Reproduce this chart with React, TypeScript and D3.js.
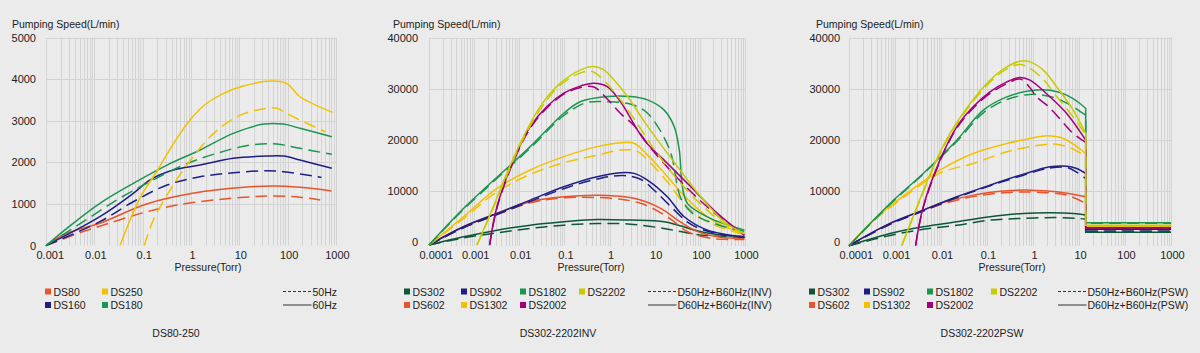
import * as d3 from 'd3';

type Pt = [number, number];

// ---------- DS80-250 (pressure Torr, speed L/min) ----------
const ds80_60: Pt[] = [[0.001, 0], [0.0027, 296], [0.013, 537], [0.12, 1000], [1.08, 1258], [12.6, 1402], [50, 1434], [180, 1402], [810, 1314]];
const ds80_50: Pt[] = [[0.001, 0], [0.0045, 290], [0.012, 455], [0.17, 857], [1.08, 1034], [12.6, 1162], [50, 1194], [180, 1162], [470, 1098]];
const ds160_60: Pt[] = [[0.001, 0], [0.013, 695], [0.064, 1257], [0.14, 1577], [0.43, 1817], [1.54, 1937], [7.5, 2099], [37, 2154], [82, 2154], [180, 2058], [820, 1858]];
const ds160_50: Pt[] = [[0.001, 0], [0.013, 575], [0.064, 1055], [0.32, 1457], [1.54, 1656], [7.5, 1752], [37, 1800], [82, 1776], [320, 1680], [500, 1640]];
const ds180_60: Pt[] = [[0.001, 0], [0.0027, 416], [0.013, 1017], [0.064, 1498], [0.32, 1937], [1.54, 2298], [7.5, 2700], [32, 2923], [82, 2923], [180, 2820], [820, 2618]];
const ds180_50: Pt[] = [[0.001, 0], [0.0059, 575], [0.029, 1096], [0.14, 1536], [0.7, 1937], [3.4, 2219], [17, 2418], [60, 2442], [180, 2339], [820, 2195]];
const ds250_60: Pt[] = [[0.034, 0], [0.088, 1150], [0.2, 1800], [0.45, 2480], [1.0, 3050], [2, 3400], [4.5, 3650], [12, 3838], [47, 3958], [95, 3901], [180, 3580], [850, 3204]];
const ds250_50: Pt[] = [[0.108, 0], [0.166, 615], [0.37, 1337], [0.82, 1937], [2.95, 2700], [10.5, 3139], [37, 3300], [60, 3300], [130, 3098], [600, 2738]];

// ---------- DS302-2202INV ----------
const inv302_60: Pt[] = [[0.0001, -700], [0.00058, 920], [0.0032, 2235], [0.0175, 3222], [0.097, 3880], [0.53, 4340], [2.9, 4208], [16, 3880], [32, 3234], [105, 1913], [295, 1262], [970, 927]];
const inv302_50: Pt[] = [[0.0001, -700], [0.00058, 700], [0.0032, 1700], [0.0175, 2564], [0.097, 3222], [0.53, 3550], [2.9, 3419], [16, 2564], [40, 1900], [100, 1300], [300, 1000], [970, 800]];
const inv602_60: Pt[] = [[0.0001, -700], [0.00058, 2893], [0.0032, 5523], [0.0175, 7824], [0.097, 8810], [0.63, 9100], [3.5, 8500], [13.5, 6527], [32, 4220], [74, 2248], [245, 927], [970, 611]];
const inv602_50: Pt[] = [[0.0001, -700], [0.00058, 2700], [0.0032, 5300], [0.0175, 7600], [0.097, 8600], [1.05, 8500], [4.9, 7513], [19, 4871], [54, 1913], [174, 611], [970, 400]];
const inv902_60: Pt[] = [[0.0001, -700], [0.00058, 2893], [0.0032, 5523], [0.0175, 8153], [0.097, 10783], [0.53, 12755], [1.75, 13545], [3.5, 13413], [6.9, 12098], [19, 8815], [45, 4871], [148, 2248], [970, 927]];
const inv902_50: Pt[] = [[0.0001, -700], [0.00058, 2700], [0.0032, 5300], [0.0175, 7900], [0.097, 10400], [0.53, 12300], [2, 13000], [5, 12200], [10, 10000], [25, 6500], [60, 3500], [200, 1700], [970, 800]];
const inv1302_60: Pt[] = [[0.0001, -700], [0.00058, 4865], [0.0032, 10454], [0.0175, 14070], [0.097, 16700], [0.53, 18673], [1.75, 19462], [3.5, 19330], [6.5, 17300], [17, 13300], [45, 9000], [120, 5500], [300, 3200], [970, 1600]];
const inv1302_50: Pt[] = [[0.0001, -700], [0.00058, 4500], [0.0032, 9800], [0.0175, 13200], [0.097, 15500], [0.53, 17000], [1.75, 18000], [4, 17800], [8, 15500], [20, 11500], [50, 7000], [150, 3800], [970, 1300]];
const inv1802_60: Pt[] = [[0.0001, -700], [0.00058, 6500], [0.0175, 18673], [0.097, 25248], [0.23, 27550], [0.89, 28535], [2.9, 28535], [6.9, 27878], [16, 25905], [27, 22618], [35, 18015], [41, 10783], [53, 7495], [105, 5523], [208, 4208], [970, 2235]];
const inv1802_50: Pt[] = [[0.0001, -700], [0.00058, 6300], [0.0175, 18400], [0.097, 24800], [0.3, 27300], [1, 27500], [3, 27000], [6.5, 25500], [15, 21000], [24, 16700], [30, 12000], [38, 8500], [70, 5500], [250, 3300], [970, 2000]];
const inv2002_60: Pt[] = [[0.0022, -700], [0.0032, 6838], [0.0075, 16043], [0.0175, 22618], [0.041, 26563], [0.097, 29193], [0.23, 30640], [0.45, 31165], [0.89, 30508], [1.75, 27500], [5.8, 20000], [19, 15400], [63, 10787], [245, 5541], [970, 1262]];
const inv2002_50: Pt[] = [[0.0022, -700], [0.0032, 6600], [0.0075, 15800], [0.0175, 22300], [0.041, 26300], [0.097, 29000], [0.23, 30300], [0.45, 30400], [0.9, 28000], [1.75, 25200], [3.5, 22800], [8, 18500], [25, 13500], [90, 8500], [300, 4500], [970, 1200]];
const inv2202_60: Pt[] = [[0.00115, -700], [0.0023, 5523], [0.0053, 13413], [0.0105, 19330], [0.029, 26563], [0.081, 31165], [0.23, 33795], [0.45, 34453], [0.75, 33795], [1.25, 31823], [2.5, 28535], [5.5, 24000], [11.5, 20000], [32, 14733], [105, 8815], [347, 3885], [970, 1597]];
const inv2202_50: Pt[] = [[0.00115, -700], [0.0023, 5300], [0.0053, 13000], [0.0105, 19000], [0.029, 26000], [0.081, 30800], [0.23, 33200], [0.4, 33500], [0.7, 32000], [1.25, 29500], [2.5, 26000], [5.5, 21500], [11, 17500], [30, 12500], [100, 7500], [347, 3500], [970, 1500]];

// ---------- DS302-2202PSW (vertical drop at 14 Torr, then flat) ----------
const psw302_60: Pt[] = [[0.0001, -700], [0.00078, 1695], [0.0041, 2999], [0.022, 3977], [0.116, 4955], [0.62, 5607], [2.34, 5738], [7.5, 5607], [14, 5281], [14, 1925], [1000, 1925]];
const psw302_50: Pt[] = [[0.0001, -700], [0.00078, 1300], [0.0041, 2500], [0.022, 3300], [0.116, 4300], [0.62, 4650], [3.27, 4800], [8.9, 4650], [14, 4500], [14, 2100], [1000, 2100]];
const psw602_60: Pt[] = [[0.0001, -700], [0.00078, 3651], [0.0041, 6259], [0.0095, 7563], [0.05, 9193], [0.27, 10041], [0.86, 10171], [3.27, 9845], [14, 8867], [14, 2700], [1000, 2700]];
const psw602_50: Pt[] = [[0.0001, -700], [0.00078, 3500], [0.0041, 6100], [0.0095, 7300], [0.05, 8900], [0.27, 9700], [1.2, 9750], [5.4, 9200], [14, 7563], [14, 2600], [1000, 2600]];
const psw902_60: Pt[] = [[0.0001, -700], [0.00078, 3651], [0.0041, 6259], [0.022, 8867], [0.116, 11149], [0.62, 13301], [2.34, 14735], [5.4, 14865], [8.9, 14409], [14, 13431], [14, 2515], [1000, 2515]];
const psw902_50: Pt[] = [[0.0001, -700], [0.00078, 3500], [0.0041, 6100], [0.022, 8700], [0.116, 11000], [0.62, 13100], [2.34, 14500], [5.4, 14600], [8.9, 13700], [14, 12453], [14, 2400], [1000, 2400]];
const psw1302_60: Pt[] = [[0.0001, -700], [0.00034, 4303], [0.0018, 9519], [0.0095, 14083], [0.05, 17343], [0.27, 19299], [0.86, 20277], [1.98, 20799], [4.56, 20277], [14, 17343], [14, 3100], [1000, 3100]];
const psw1302_50: Pt[] = [[0.0001, -700], [0.00034, 4100], [0.0018, 9200], [0.0095, 13500], [0.05, 15387], [0.27, 17669], [1.2, 18900], [3.27, 19169], [7.5, 18200], [14, 16800], [14, 3000], [1000, 3000]];
const psw1802_60: Pt[] = [[0.0001, -700], [0.00078, 7563], [0.0041, 13431], [0.022, 19951], [0.083, 25819], [0.27, 28427], [0.86, 29601], [2.34, 29732], [5.4, 28753], [10.5, 27123], [14, 26145], [14, 3811], [1000, 3811]];
const psw1802_50: Pt[] = [[0.0001, -700], [0.00078, 7400], [0.0041, 13300], [0.022, 19700], [0.083, 25300], [0.27, 27900], [0.86, 28900], [2.34, 28500], [5.4, 27200], [10.5, 25600], [14, 24841], [14, 3700], [1000, 3700]];
const psw2002_60: Pt[] = [[0.0028, -700], [0.0041, 6911], [0.0095, 16039], [0.022, 22559], [0.05, 26471], [0.116, 29405], [0.27, 31361], [0.52, 32209], [0.86, 31687], [2.34, 28427], [5.4, 25167], [14, 19951], [14, 2829], [1000, 2829]];
const psw2002_50: Pt[] = [[0.0028, -700], [0.0041, 6700], [0.0095, 15800], [0.022, 22300], [0.05, 26200], [0.116, 29100], [0.27, 31000], [0.52, 31900], [0.86, 30200], [1.2, 28400], [2, 26800], [3.27, 24840], [5.4, 22560], [7.5, 21255], [14, 19500], [14, 2700], [1000, 2700]];
const psw2202_60: Pt[] = [[0.0014, -700], [0.003, 6911], [0.0068, 14735], [0.0157, 21255], [0.043, 27123], [0.116, 31687], [0.27, 34295], [0.52, 35404], [0.86, 35273], [1.68, 33643], [3.27, 30383], [7.5, 25819], [14, 21255], [14, 3300], [1000, 3300]];
const psw2202_50: Pt[] = [[0.0014, -700], [0.003, 6700], [0.0068, 14500], [0.0157, 21000], [0.043, 26800], [0.116, 31300], [0.27, 33900], [0.52, 34752], [0.86, 34000], [1.68, 31800], [3.27, 28500], [7.5, 24500], [14, 21000], [14, 3200], [1000, 3200]];

const ticks1 = [0.001, 0.01, 0.1, 1, 10, 100, 1000];
const ticks23 = [0.0001, 0.001, 0.01, 0.1, 1, 10, 100, 1000];
const yTicks1 = [0, 1000, 2000, 3000, 4000, 5000];
const yTicks23 = [0, 10000, 20000, 30000, 40000];

const C = {
  red: '#e8542b', gold: '#f2c100', navy: '#1e1e86', green: '#1b9650',
  dkgreen: '#0d5638', lime: '#c6cc00', purple: '#a2007a',
};

const FONT = '"Liberation Sans", Arial, Helvetica, sans-serif';

type Series = { name: string; color: string; d50: Pt[]; d60: Pt[] };
type LegendItem = { name: string; color: string; x: number; row: number };

interface ChartCfg {
  title: string; titleX: number;
  xDomain: [number, number]; xRange: [number, number];
  yDomain: [number, number]; yRange: [number, number];
  plotTop: number; plotBottom: number;
  xTicks: number[]; yTicks: number[];
  yLabelX: number; pumpX: number; pressX: number;
  series: Series[]; legend: LegendItem[];
  lineX: number; lab50: string; lab60: string;
}

const charts: ChartCfg[] = [
  {
    title: 'DS80-250', titleX: 176,
    xDomain: [0.001, 1000], xRange: [46, 336], yDomain: [0, 5000], yRange: [245.6, 37.7],
    plotTop: 37.7, plotBottom: 245.6, xTicks: ticks1, yTicks: yTicks1,
    yLabelX: 36, pumpX: 12, pressX: 208,
    series: [
      { name: 'DS80', color: C.red, d50: ds80_50, d60: ds80_60 },
      { name: 'DS160', color: C.navy, d50: ds160_50, d60: ds160_60 },
      { name: 'DS180', color: C.green, d50: ds180_50, d60: ds180_60 },
      { name: 'DS250', color: C.gold, d50: ds250_50, d60: ds250_60 },
    ],
    legend: [
      { name: 'DS80', color: C.red, x: 45, row: 0 },
      { name: 'DS250', color: C.gold, x: 102, row: 0 },
      { name: 'DS160', color: C.navy, x: 45, row: 1 },
      { name: 'DS180', color: C.green, x: 102, row: 1 },
    ],
    lineX: 283, lab50: '50Hz', lab60: '60Hz',
  },
  {
    title: 'DS302-2202INV', titleX: 558,
    xDomain: [0.0001, 1000], xRange: [429, 745], yDomain: [0, 40000], yRange: [241.5, 38.3],
    plotTop: 38.3, plotBottom: 246, xTicks: ticks23, yTicks: yTicks23,
    yLabelX: 418, pumpX: 393, pressX: 591,
    series: [
      { name: 'DS302', color: C.dkgreen, d50: inv302_50, d60: inv302_60 },
      { name: 'DS602', color: C.red, d50: inv602_50, d60: inv602_60 },
      { name: 'DS902', color: C.navy, d50: inv902_50, d60: inv902_60 },
      { name: 'DS1302', color: C.gold, d50: inv1302_50, d60: inv1302_60 },
      { name: 'DS1802', color: C.green, d50: inv1802_50, d60: inv1802_60 },
      { name: 'DS2002', color: C.purple, d50: inv2002_50, d60: inv2002_60 },
      { name: 'DS2202', color: C.lime, d50: inv2202_50, d60: inv2202_60 },
    ],
    legend: [
      { name: 'DS302', color: C.dkgreen, x: 404, row: 0 },
      { name: 'DS902', color: C.navy, x: 461, row: 0 },
      { name: 'DS1802', color: C.green, x: 520, row: 0 },
      { name: 'DS2202', color: C.lime, x: 579, row: 0 },
      { name: 'DS602', color: C.red, x: 404, row: 1 },
      { name: 'DS1302', color: C.gold, x: 461, row: 1 },
      { name: 'DS2002', color: C.purple, x: 520, row: 1 },
    ],
    lineX: 648, lab50: 'D50Hz+B60Hz(INV)', lab60: 'D60Hz+B60Hz(INV)',
  },
  {
    title: 'DS302-2202PSW', titleX: 982,
    xDomain: [0.0001, 1000], xRange: [849, 1171], yDomain: [0, 40000], yRange: [242.1, 37.7],
    plotTop: 37.7, plotBottom: 246, xTicks: ticks23, yTicks: yTicks23,
    yLabelX: 840, pumpX: 816, pressX: 1012,
    series: [
      { name: 'DS302', color: C.dkgreen, d50: psw302_50, d60: psw302_60 },
      { name: 'DS602', color: C.red, d50: psw602_50, d60: psw602_60 },
      { name: 'DS902', color: C.navy, d50: psw902_50, d60: psw902_60 },
      { name: 'DS1302', color: C.gold, d50: psw1302_50, d60: psw1302_60 },
      { name: 'DS1802', color: C.green, d50: psw1802_50, d60: psw1802_60 },
      { name: 'DS2002', color: C.purple, d50: psw2002_50, d60: psw2002_60 },
      { name: 'DS2202', color: C.lime, d50: psw2202_50, d60: psw2202_60 },
    ],
    legend: [
      { name: 'DS302', color: C.dkgreen, x: 809, row: 0 },
      { name: 'DS902', color: C.navy, x: 864, row: 0 },
      { name: 'DS1802', color: C.green, x: 927, row: 0 },
      { name: 'DS2202', color: C.lime, x: 991, row: 0 },
      { name: 'DS602', color: C.red, x: 809, row: 1 },
      { name: 'DS1302', color: C.gold, x: 864, row: 1 },
      { name: 'DS2002', color: C.purple, x: 927, row: 1 },
    ],
    lineX: 1058, lab50: 'D50Hz+B60Hz(PSW)', lab60: 'D60Hz+B60Hz(PSW)',
  },
];

const ROW_Y = [291.5, 305];

function Chart({ cfg }: { cfg: ChartCfg }) {
  const x = d3.scaleLog().domain(cfg.xDomain).range(cfg.xRange);
  const y = d3.scaleLinear().domain(cfg.yDomain).range(cfg.yRange);

  // minor + major log grid
  const grid: number[] = [];
  const e0 = Math.round(Math.log10(cfg.xDomain[0]));
  const e1 = Math.round(Math.log10(cfg.xDomain[1]));
  for (let e = e0; e <= e1; e++) {
    for (let k = 1; k <= 9; k++) {
      const v = k * Math.pow(10, e);
      if (v <= cfg.xDomain[1] * 1.0001) grid.push(v);
    }
  }

  const curve = d3.line<Pt>().x(d => x(d[0])).y(d => y(d[1])).curve(d3.curveCatmullRom.alpha(0.5));
  const straight = d3.line<Pt>().x(d => x(d[0])).y(d => y(d[1]));

  // curved part up to a vertical drop, straight afterwards
  const pathOf = (pts: Pt[]) => {
    const i = pts.findIndex((p, j) => j > 0 && p[0] === pts[j - 1][0]);
    if (i < 0) return curve(pts) ?? '';
    return (curve(pts.slice(0, i)) ?? '') + (straight(pts.slice(i - 1)) ?? '').replace(/^M/, 'L');
  };

  const [xl, xr] = cfg.xRange;
  return (
    <g fontFamily={FONT} fill="#222">
      {grid.map((v, i) => {
        const px = Math.round(x(v)) + 0.5;
        return <line key={'v' + i} x1={px} x2={px} y1={cfg.plotTop} y2={cfg.plotBottom} stroke="#d3d3d3" strokeWidth={1} />;
      })}
      {cfg.yTicks.filter(t => t > 0).map(t => {
        const py = Math.round(y(t)) + 0.5;
        return <line key={'h' + t} x1={xl} x2={xr} y1={py} y2={py} stroke="#d3d3d3" strokeWidth={1} />;
      })}
      {cfg.series.map(s => (
        <g key={s.name} fill="none" stroke={s.color} strokeWidth={1.5}>
          <path d={pathOf(s.d50)} strokeDasharray="12,6" />
          <path d={pathOf(s.d60)} />
        </g>
      ))}
      {cfg.yTicks.map(t => (
        <text key={'yl' + t} x={cfg.yLabelX} y={y(t) + 4} fontSize={11} textAnchor="end">{t}</text>
      ))}
      {cfg.xTicks.map((t, i) => (
        i === 0
          ? <text key={'xl' + t} x={xl - 9.5} y={259} fontSize={11} textAnchor="start">{String(t)}</text>
          : <text key={'xl' + t} x={x(t) + 1.5} y={259} fontSize={11} textAnchor="middle">{String(t)}</text>
      ))}
      <text x={cfg.pumpX} y={28} fontSize={10.5}>Pumping Speed(L/min)</text>
      <text x={cfg.pressX} y={271} fontSize={10.5} textAnchor="middle">Pressure(Torr)</text>
      {cfg.legend.map(l => (
        <g key={'lg' + l.name}>
          <rect x={l.x} y={ROW_Y[l.row] - 3} width={6} height={6} fill={l.color} />
          <text x={l.x + 8.5} y={ROW_Y[l.row] + 4} fontSize={10.5}>{l.name}</text>
        </g>
      ))}
      <line x1={cfg.lineX} x2={cfg.lineX + 28.5} y1={ROW_Y[0]} y2={ROW_Y[0]} stroke="#333" strokeWidth={1} strokeDasharray="3,2" />
      <text x={cfg.lineX + 29.5} y={ROW_Y[0] + 4} fontSize={10.5}>{cfg.lab50}</text>
      <line x1={cfg.lineX} x2={cfg.lineX + 28.5} y1={ROW_Y[1]} y2={ROW_Y[1]} stroke="#333" strokeWidth={1} />
      <text x={cfg.lineX + 29.5} y={ROW_Y[1] + 4} fontSize={10.5}>{cfg.lab60}</text>
      <text x={cfg.titleX} y={337} fontSize={10.5} textAnchor="middle">{cfg.title}</text>
    </g>
  );
}

export default function App() {
  return (
    <svg width={1200} height={353} style={{ position: 'absolute', left: 0, top: 0, display: 'block' }}>
      <rect x={0} y={0} width={1200} height={353} fill="#ebebeb" />
      {charts.map(c => <Chart key={c.title} cfg={c} />)}
    </svg>
  );
}
